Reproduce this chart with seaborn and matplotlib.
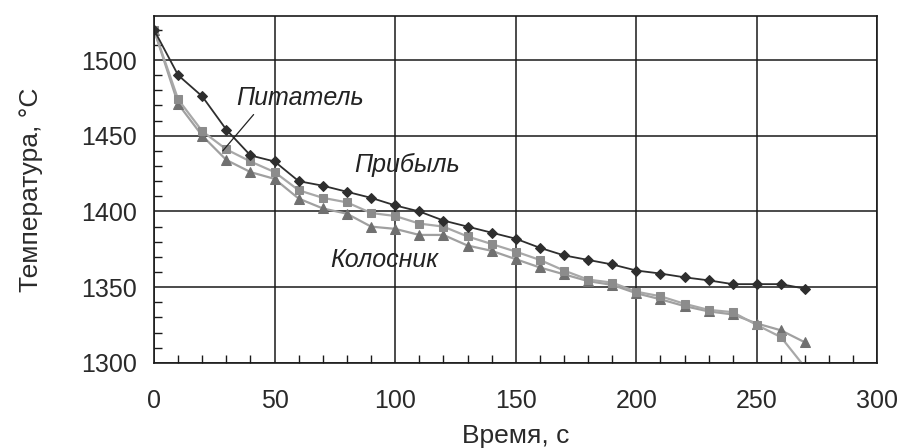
import numpy as np
import pandas as pd
import seaborn as sns
import matplotlib.pyplot as plt
from matplotlib.ticker import MultipleLocator

# Данные
time_s = [0, 10, 20, 30, 40, 50, 60, 70, 80, 90, 100, 110, 120, 130,
          140, 150, 160, 170, 180, 190, 200, 210, 220, 230, 240, 250, 260, 270]
pribyl = [1520, 1490, 1476, 1454, 1437, 1433, 1420, 1417, 1413, 1409, 1404, 1400,
          1394, 1390, 1386, 1382, 1376, 1371, 1368, 1365, 1361, 1359, 1356.5,
          1354.5, 1352, 1352, 1352, 1349]
pitatel = [1520, 1474, 1453, 1441, 1433, 1426, 1414, 1409, 1406, 1399, 1397, 1392,
           1390, 1383.5, 1378.5, 1373.5, 1368, 1361, 1355, 1353, 1347, 1344,
           1339, 1335, 1333.5, 1325, 1317, 1297]
kolosnik = [1520, 1471, 1450, 1434, 1426, 1421.5, 1408.5, 1402, 1398.5, 1390, 1388.5,
            1384.5, 1384.5, 1377.5, 1374, 1368.5, 1363, 1358.5, 1354, 1351.5, 1346,
            1342, 1337.5, 1334, 1332, 1326, 1321.5, 1313.5]

df = pd.DataFrame({'t': time_s, 'pribyl': pribyl, 'pitatel': pitatel, 'kolosnik': kolosnik})

sns.set_style("white")
plt.rcParams['font.family'] = ['Liberation Sans', 'DejaVu Sans']

fig = plt.figure(figsize=(8.97, 4.48), dpi=100)
ax = fig.add_axes([0.1717, 0.19, 0.8065, 0.774])

# серые кривые снизу, тёмная сверху
sns.lineplot(data=df, x='t', y='kolosnik', ax=ax, color='#a0a0a0', lw=1.6,
             marker='^', markersize=7, markerfacecolor='#707070',
             markeredgecolor='#707070', clip_on=True)
sns.lineplot(data=df, x='t', y='pitatel', ax=ax, color='#a8a8a8', lw=1.6,
             marker='s', markersize=6, markerfacecolor='#8c8c8c',
             markeredgecolor='#8c8c8c', clip_on=True)
sns.lineplot(data=df, x='t', y='pribyl', ax=ax, color='#2e2e2e', lw=1.3,
             marker='D', markersize=5.5, markerfacecolor='#2e2e2e',
             markeredgecolor='#2e2e2e', clip_on=True)

ax.set_xlim(0, 300)
ax.set_ylim(1300, 1529)
ax.xaxis.set_major_locator(MultipleLocator(50))
ax.xaxis.set_minor_locator(MultipleLocator(10))
ax.yaxis.set_major_locator(MultipleLocator(50))
ax.yaxis.set_minor_locator(MultipleLocator(10))
ax.grid(True, which='major', color='#1a1a1a', lw=1.1)
ax.tick_params(which='both', direction='in', bottom=True, left=True,
               color='#1a1a1a', width=1)
ax.tick_params(which='major', length=0, labelsize=18, labelcolor='#2a2a2a')
ax.tick_params(which='minor', length=6)
ax.tick_params(axis='x', which='major', pad=19)
ax.tick_params(axis='y', which='major', pad=12)
for sp in ax.spines.values():
    sp.set_color('#1a1a1a')
    sp.set_linewidth(1.2)

ax.set_xlabel('Время, с', fontsize=19, color='#2a2a2a', labelpad=8)
ax.set_ylabel('Температура, °C', fontsize=19, color='#2a2a2a', labelpad=28)

ax.text(34, 1475, 'Питатель', fontsize=18, style='italic', color='#222222', va='center')
ax.text(83, 1431, 'Прибыль', fontsize=18, style='italic', color='#222222', va='center')
ax.text(73, 1368, 'Колосник', fontsize=18, style='italic', color='#222222', va='center')
ax.plot([41.3, 28.5], [1464, 1440], color='#222222', lw=0.9)

fig.savefig('out.png', dpi=100)
